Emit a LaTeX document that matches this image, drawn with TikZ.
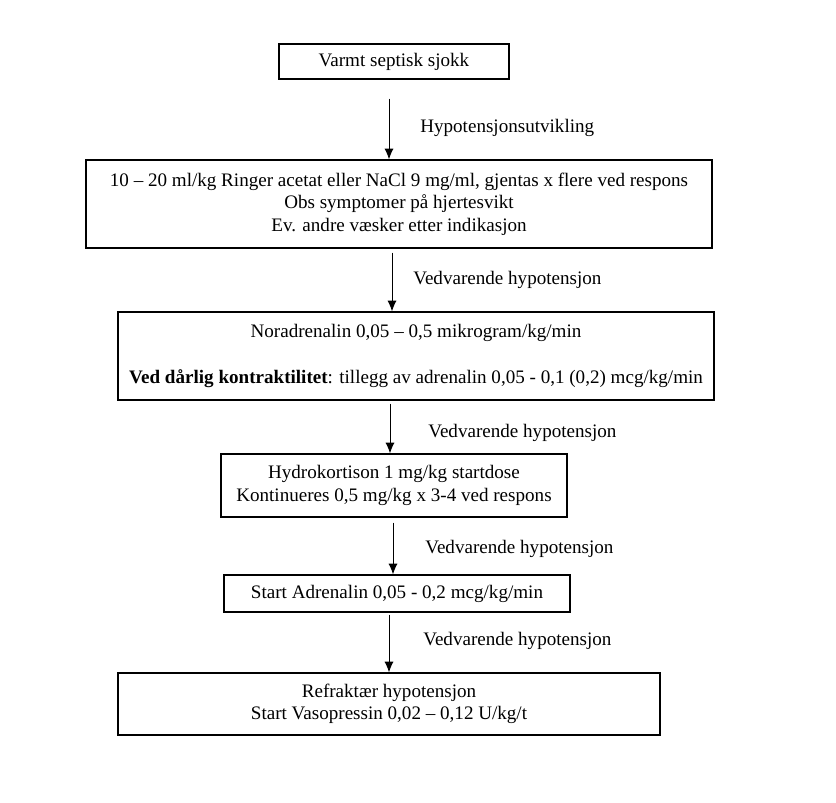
\documentclass[tikz,border=0pt]{standalone}
\usepackage{fontspec}
\setmainfont{Liberation Serif}
\usetikzlibrary{calc,arrows.meta}
\begin{document}
\begin{tikzpicture}[x=0.6pt,y=-0.6pt,
  box/.style={draw,line width=0.7pt,inner sep=0pt,align=center,font=\fontsize{11.45}{13.5}\selectfont},
  arr/.style={line width=0.6pt,-{Latex[length=6.5pt,width=5.5pt]}},
  lbl/.style={anchor=west,inner sep=0pt,font=\fontsize{11.45}{13.5}\selectfont}]
\useasboundingbox (0,0) rectangle (836,802);
\node[box,minimum width=138pt,minimum height=21pt] (b1) at (394,61.5) {Varmt septisk sjokk};
\node[box,minimum width=375.6pt,minimum height=52.8pt] (b2) at (399,204) {10 – 20 ml/kg Ringer acetat eller NaCl 9 mg/ml, gjentas x flere ved respons\\Obs symptomer på hjertesvikt\\Ev. andre væsker etter indikasjon};
\node[box,minimum width=357.6pt,minimum height=52.8pt] (b3) at (416,356) {Noradrenalin 0,05 – 0,5 mikrogram/kg/min\\[14pt]\textbf{Ved dårlig kontraktilitet}: tillegg av adrenalin 0,05 - 0,1 (0,2) mcg/kg/min};
\node[box,minimum width=207.6pt,minimum height=37.8pt] (b4) at (394,485.5) {Hydrokortison 1 mg/kg startdose\\Kontinueres 0,5 mg/kg x 3-4 ved respons};
\node[box,minimum width=207.6pt,minimum height=22.2pt] (b5) at (397,593.5) {Start Adrenalin 0,05 - 0,2 mcg/kg/min};
\node[box,minimum width=325.2pt,minimum height=37.2pt] (b6) at (389,704) {Refraktær hypotensjon\\Start Vasopressin 0,02 – 0,12 U/kg/t};
\coordinate (s1) at ($(b1.south)+(-5,19)$);
\draw[arr] (s1) -- (s1 |- b2.north);
\coordinate (s2) at ($(b2.south)+(-7,4)$);
\draw[arr] (s2) -- (s2 |- b3.north);
\coordinate (s3) at ($(b3.south)+(-26,3)$);
\draw[arr] (s3) -- (s3 |- b4.north);
\coordinate (s4) at ($(b4.south)+(-1,5)$);
\draw[arr] (s4) -- (s4 |- b5.north);
\coordinate (s5) at ($(b5.south)+(-8,2)$);
\draw[arr] (s5) -- (s5 |- b6.north);
\node[lbl] (l1) at (420,128) {Hypotensjonsutvikling};
\node[lbl] (l2) at (413,280) {Vedvarende hypotensjon};
\node[lbl] (l3) at (428,433) {Vedvarende hypotensjon};
\node[lbl] (l4) at (425,549) {Vedvarende hypotensjon};
\node[lbl] (l5) at (423,641) {Vedvarende hypotensjon};
\end{tikzpicture}
\end{document}
